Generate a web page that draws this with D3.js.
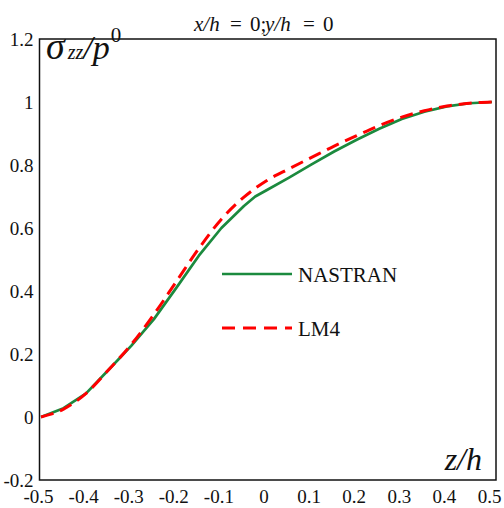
<!DOCTYPE html>
<html>
<head>
<meta charset="utf-8">
<script src="https://cdn.jsdelivr.net/npm/d3@7"></script>
<style>
  html, body { margin: 0; padding: 0; background: #fff; }
  svg { display: block; }
  svg text { font-family: "Liberation Serif", "Times New Roman", serif; }
</style>
</head>
<body>
<svg id="chart" width="504" height="508"></svg>
<script>
// Normalised thickness coordinate z/h
const zNastran = [-0.5, -0.45, -0.4, -0.35, -0.3, -0.25, -0.2, -0.15, -0.1, -0.05, -0.025, 0, 0.05, 0.1, 0.15, 0.2, 0.25, 0.3, 0.35, 0.4, 0.45, 0.5];
const sNastran = [0, 0.028, 0.075, 0.15, 0.226, 0.31, 0.41, 0.512, 0.6, 0.67, 0.7, 0.72, 0.76, 0.802, 0.843, 0.88, 0.915, 0.946, 0.969, 0.986, 0.996, 1.0];

const zLM4 = [-0.5, -0.45, -0.4, -0.35, -0.3, -0.25, -0.2, -0.15, -0.1, -0.05, 0, 0.05, 0.1, 0.15, 0.2, 0.25, 0.3, 0.35, 0.4, 0.45, 0.5];
const sLM4 = [0, 0.025, 0.075, 0.15, 0.23, 0.325, 0.43, 0.535, 0.628, 0.698, 0.75, 0.788, 0.824, 0.86, 0.893, 0.925, 0.952, 0.972, 0.987, 0.996, 1.0];

const xTicks = [-0.5, -0.4, -0.3, -0.2, -0.1, 0, 0.1, 0.2, 0.3, 0.4, 0.5];
const yTicks = [-0.2, 0, 0.2, 0.4, 0.6, 0.8, 1, 1.2];

const seriesNames = ["NASTRAN", "LM4"];
const seriesColors = ["#1b8a3e", "#ff0000"];

const svg = d3.select("#chart");

// plotting area
const frame = { left: 39.5, top: 39, right: 496, bottom: 480 };
const x = d3.scaleLinear().domain([-0.5, 0.5]).range([41, 492]);
const y = d3.scaleLinear().domain([-0.2, 1.2]).range([frame.bottom, frame.top]);

const fmt = d => (d === 0 ? "0" : String(+d.toFixed(1)));

// frame around the plot
svg.append("rect")
  .attr("x", frame.left).attr("y", frame.top)
  .attr("width", frame.right - frame.left)
  .attr("height", frame.bottom - frame.top)
  .attr("fill", "none").attr("stroke", "#111").attr("stroke-width", 1.5);

// y axis labels
const yAxis = svg.append("g")
  .attr("transform", `translate(${frame.left - 6},0)`)
  .call(d3.axisLeft(y).tickValues(yTicks).tickSize(0).tickPadding(0).tickFormat(fmt));
yAxis.select(".domain").remove();
yAxis.selectAll("text")
  .attr("font-size", 19).attr("fill", "#111");

// x axis labels
const xAxis = svg.append("g")
  .attr("transform", `translate(-3,${frame.bottom})`)
  .call(d3.axisBottom(x).tickValues(xTicks).tickSize(0).tickPadding(10).tickFormat(fmt));
xAxis.select(".domain").remove();
xAxis.selectAll("text")
  .attr("font-size", 19).attr("fill", "#111");

// curves
const line = d3.line().x(d => x(d[0])).y(d => y(d[1]));
const lm4Line = d3.line().x(d => x(d[0])).y(d => y(d[1])).curve(d3.curveMonotoneX);

svg.append("path")
  .datum(d3.zip(zNastran, sNastran))
  .attr("d", line)
  .attr("fill", "none").attr("stroke", seriesColors[0])
  .attr("stroke-width", 2.7).attr("stroke-linejoin", "round");

svg.append("path")
  .datum(d3.zip(zLM4, sLM4))
  .attr("d", lm4Line)
  .attr("fill", "none").attr("stroke", seriesColors[1])
  .attr("stroke-width", 3).attr("stroke-dasharray", "13,7");

// legend
const legend = svg.append("g");
seriesNames.forEach((name, i) => {
  const ly = 274 + i * 54;
  legend.append("line")
    .attr("x1", 222).attr("x2", 292).attr("y1", ly).attr("y2", ly)
    .attr("stroke", seriesColors[i]).attr("stroke-width", i === 0 ? 2.7 : 3)
    .attr("stroke-dasharray", i === 0 ? null : "13,8");
  legend.append("text")
    .attr("x", 298).attr("y", ly + 8)
    .attr("font-size", 21).attr("fill", "#111")
    .text(name);
});

// title: x/h = 0; y/h = 0
const title = svg.append("text")
  .attr("y", 31)
  .attr("font-size", 21).attr("fill", "#111");
const titleParts = [
  { t: "x/h", x: 194, italic: true },
  { t: "=", x: 230, italic: false },
  { t: "0;", x: 250, italic: false },
  { t: "y/h", x: 265, italic: true },
  { t: "=", x: 303, italic: false },
  { t: "0", x: 323, italic: false }
];
titleParts.forEach(p => {
  title.append("tspan").attr("x", p.x)
    .attr("font-style", p.italic ? "italic" : "normal")
    .text(p.t);
});

// y quantity label
const yLab = svg.append("text")
  .attr("x", 46).attr("y", 59)
  .attr("fill", "#111").attr("font-style", "italic");
yLab.append("tspan").attr("font-size", 38).text("σ");
yLab.append("tspan").attr("font-size", 20).attr("dx", 3).text("zz");
yLab.append("tspan").attr("font-size", 34).text("/p");
yLab.append("tspan").attr("font-size", 21).attr("dy", -17).attr("dx", 1).attr("font-style", "normal").text("0");

// x quantity label
svg.append("text")
  .attr("x", 482).attr("y", 470)
  .attr("text-anchor", "end")
  .attr("font-size", 32).attr("font-style", "italic").attr("fill", "#111")
  .text("z/h");
</script>
</body>
</html>
